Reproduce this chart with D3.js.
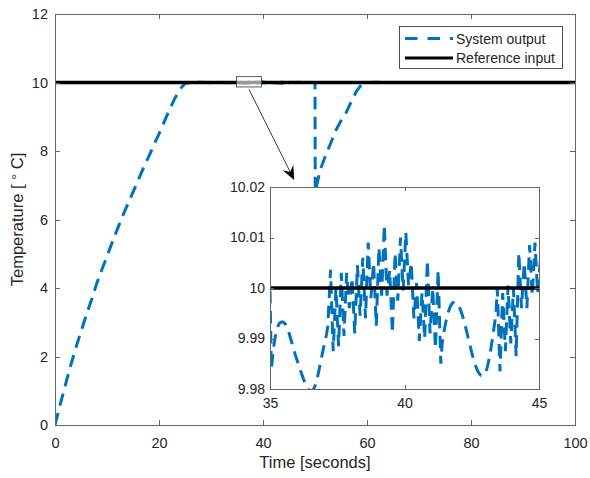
<!DOCTYPE html>
<html>
<head>
<meta charset="utf-8">
<script src="https://cdn.jsdelivr.net/npm/d3@7"></script>
<style>
body { margin: 0; background: #fff; }
text { font-family: "Liberation Sans", Arial, Helvetica, sans-serif; fill: #262626; }
</style>
</head>
<body>
<script>
// reference input (constant set point)
var refTime = [0, 100];
var refTemp = [10, 10];

// system output, coarse samples before the zoomed window
var outTimeA = [0, 1, 2, 3, 4, 5, 6, 7, 8, 9, 10, 11, 12, 13, 14, 15, 16, 17, 18, 19, 20, 21, 22, 23, 24, 25, 26, 27, 28, 30, 32, 34];
var outTempA = [0, 0.6, 1.17, 1.73, 2.25, 2.73, 3.2, 3.65, 4.12, 4.53, 4.93, 5.33, 5.72, 6.1, 6.45, 6.8, 7.15, 7.5, 7.83, 8.17,
                8.5, 8.85, 9.2, 9.52, 9.8, 9.97, 10.0, 10.008, 10.004, 9.996, 10.003, 9.995];

// zoomed window 35-45 s
// 35.00 - 37.10, every 0.05 s
var segATemp = [10.000, 9.984, 9.9865, 9.9888, 9.9905, 9.9917, 9.9925, 9.9930, 9.9932, 9.9933, 9.9932,
                9.9930, 9.9926, 9.9920, 9.9912, 9.9903, 9.9894, 9.9884, 9.9875, 9.9866, 9.9858,
                9.9850, 9.9842, 9.9834, 9.9826, 9.9819, 9.9812, 9.9806, 9.9801, 9.9798, 9.9796,
                9.9796, 9.9798, 9.9803, 9.9810, 9.9820, 9.9832, 9.9845, 9.9858, 9.9871, 9.9884,
                9.9896, 9.9908];
// 37.15 - 41.35, every 0.1 s
var segBTemp = [9.9925, 10.0036, 9.9875, 10.0000, 9.9885, 10.0030, 9.9905, 10.0030, 9.9960, 10.0020,
                9.9910, 10.0045, 9.9945, 10.0060, 9.9940, 10.0090, 9.9980, 10.0050, 9.9925, 10.0080,
                9.9985, 10.0125, 9.9985, 10.0035, 9.9910, 10.0070, 9.9975, 10.0100, 9.9995, 10.0110,
                10.0005, 10.0050, 9.9940, 10.0010, 9.9895, 9.9990, 9.9900, 10.0055, 9.9910, 10.0000,
                9.9880, 10.0035, 9.9850];
// 41.40 - 43.40, every 0.05 s
var segCTemp = [9.9890, 9.9908, 9.9923, 9.9936, 9.9947, 9.9956, 9.9963, 9.9968, 9.9971,
                9.9972, 9.9972, 9.9970, 9.9966, 9.9961, 9.9954, 9.9946, 9.9937, 9.9927, 9.9916,
                9.9905, 9.9894, 9.9883, 9.9872, 9.9862, 9.9853, 9.9845, 9.9838, 9.9833, 9.9829,
                9.9827, 9.9826, 9.9827, 9.9831, 9.9838, 9.9848, 9.9861, 9.9876, 9.9893, 9.9911,
                9.9930, 9.9950];
// 43.45 - 45.05, every 0.1 s
var segDTemp = [10.0000, 9.9835, 9.9990, 9.9875, 10.0005, 9.9890, 10.0000, 9.9865, 10.0070, 9.9960,
                10.0050, 9.9960, 10.0085, 9.9985, 10.0090, 9.9990, 10.0055];

// system output after the zoomed window (disturbance at 50 s)
var outTimeB = [46, 47, 48, 49, 50, 50.05, 51, 52, 53, 54, 55, 56, 57, 58, 59, 60, 62, 65, 70, 75, 80, 85, 90, 95, 100];
var outTempB = [9.998, 10.004, 9.997, 10.002, 10.0, 6.8, 7.45, 7.85, 8.22, 8.6, 8.88, 9.12, 9.45, 9.75, 9.95,
                10.0, 10.004, 9.997, 10.003, 9.996, 10.002, 9.998, 10.003, 9.997, 10.0];

var xTicks = [0, 20, 40, 60, 80, 100];
var yTicks = [0, 2, 4, 6, 8, 10, 12];
var insetXTicks = [35, 40, 45];
var insetYTicks = [9.98, 9.99, 10, 10.01, 10.02];
var legendLabels = ["System output", "Reference input"];

// zoom marker and arrow, in data units of the main axes
var markTime = [34.9, 39.7], markTemp = [9.87, 10.17];
var arrowFrom = [37.3, 9.8], arrowTo = [46.0, 7.15];

var blue = "#0072BD", axisGrey = "#666";

function pairs(ts, vs){ return ts.map(function(t, i){ return {t: t, v: vs[i]}; }); }
function grid(start, step, vs){ return vs.map(function(v, i){ return {t: start + i * step, v: v}; }); }

var output = pairs(outTimeA, outTempA)
    .concat(grid(35, 0.05, segATemp), grid(37.15, 0.1, segBTemp),
            grid(41.4, 0.05, segCTemp), grid(43.45, 0.1, segDTemp),
            pairs(outTimeB, outTempB));
var reference = pairs(refTime, refTemp);

var width = 590, height = 478;
var svg = d3.select("body").append("svg")
    .attr("width", width)
    .attr("height", height);
svg.append("rect").attr("width", width).attr("height", height).attr("fill", "#fff");

var defs = svg.append("defs");

//---------------- main axes
var x = d3.scaleLinear().domain([0, 100]).range([55, 575]);
var y = d3.scaleLinear().domain([0, 12]).range([425, 14]);

defs.append("clipPath").attr("id", "clipMain").append("rect")
    .attr("x", 55).attr("y", 14).attr("width", 520).attr("height", 411);

var line = d3.line().x(function(d){ return x(d.t); }).y(function(d){ return y(d.v); });

var plot = svg.append("g").attr("clip-path", "url(#clipMain)");
plot.append("path").datum(output).attr("d", line)
    .attr("fill", "none").attr("stroke", blue).attr("stroke-width", 3)
    .attr("stroke-dasharray", "12.5,7.5");
plot.append("path").datum(reference).attr("d", line)
    .attr("fill", "none").attr("stroke", "#000").attr("stroke-width", 3.3);

function styleAxis(g, size){
    g.selectAll("path, line").attr("stroke", axisGrey).attr("stroke-width", 1).attr("shape-rendering", "crispEdges");
    g.selectAll("text").attr("fill", "#262626").style("font-size", size + "px")
        .attr("font-family", "'Liberation Sans', Arial, sans-serif");
}

svg.append("g").attr("transform", "translate(0,425)")
    .call(d3.axisBottom(x).tickValues(xTicks).tickSizeInner(-5).tickSizeOuter(0).tickPadding(13))
    .call(styleAxis, 14.5);
svg.append("g").attr("transform", "translate(0,14)")
    .call(d3.axisTop(x).tickValues(xTicks).tickSizeInner(-5).tickSizeOuter(0).tickFormat(""))
    .call(styleAxis, 14.5);
svg.append("g").attr("transform", "translate(55,0)")
    .call(d3.axisLeft(y).tickValues(yTicks).tickSizeInner(-5).tickSizeOuter(0).tickPadding(7))
    .call(styleAxis, 14.5);
svg.append("g").attr("transform", "translate(575,0)")
    .call(d3.axisRight(y).tickValues(yTicks).tickSizeInner(-5).tickSizeOuter(0).tickFormat(""))
    .call(styleAxis, 14.5);

svg.append("text").attr("x", 315).attr("y", 468).attr("text-anchor", "middle")
    .style("font-size", "16.5px").text("Time [seconds]");
var yl = svg.append("text").attr("transform", "translate(23,219.5) rotate(-90)")
    .attr("text-anchor", "middle").style("font-size", "16.5px");
yl.append("tspan").text("Temperature [ ");
yl.append("tspan").attr("dy", -1).style("font-size", "15px").text("°");
yl.append("tspan").attr("dy", 1).text(" C]");

//---------------- legend
var lg = svg.append("g");
lg.append("rect").attr("x", 399.5).attr("y", 26.5).attr("width", 163).attr("height", 42)
    .attr("fill", "#fff").attr("stroke", "#262626").attr("stroke-width", 0.8);
legendLabels.forEach(function(lab, i){
    var cy = 38.5 + i * 19.5;
    lg.append("line").attr("x1", 405).attr("x2", 453).attr("y1", cy).attr("y2", cy)
        .attr("stroke", i === 0 ? blue : "#000").attr("stroke-width", 3)
        .attr("stroke-dasharray", i === 0 ? "12.5,10" : null);
    lg.append("text").attr("x", 456).attr("y", cy).attr("dy", "0.36em")
        .style("font-size", "14px").text(lab);
});

//---------------- zoom marker + arrow
svg.append("rect")
    .attr("x", x(markTime[0])).attr("y", y(markTemp[1]))
    .attr("width", x(markTime[1]) - x(markTime[0])).attr("height", y(markTemp[0]) - y(markTemp[1]))
    .attr("fill", "#fff").attr("fill-opacity", 0.6).attr("stroke", "#333").attr("stroke-width", 0.8);

var ax0 = x(arrowFrom[0]), ay0 = y(arrowFrom[1]), ax1 = x(arrowTo[0]), ay1 = y(arrowTo[1]);
var ang = Math.atan2(ay1 - ay0, ax1 - ax0), hl = 14, hw = 6, notch = 5;
var ux = Math.cos(ang), uy = Math.sin(ang), px = -uy, py = ux;
svg.append("line").attr("x1", ax0).attr("y1", ay0)
    .attr("x2", ax1 - ux * notch).attr("y2", ay1 - uy * notch)
    .attr("stroke", "#262626").attr("stroke-width", 0.9);
svg.append("path")
    .attr("d", "M" + ax1 + "," + ay1 +
        "L" + (ax1 - ux * hl + px * hw) + "," + (ay1 - uy * hl + py * hw) +
        "L" + (ax1 - ux * (hl - notch)) + "," + (ay1 - uy * (hl - notch)) +
        "L" + (ax1 - ux * hl - px * hw) + "," + (ay1 - uy * hl - py * hw) + "Z")
    .attr("fill", "#000");

//---------------- inset axes
var xi = d3.scaleLinear().domain([35, 45]).range([270, 539]);
var yi = d3.scaleLinear().domain([9.98, 10.02]).range([389, 187]);

var inset = svg.append("g");
inset.append("rect").attr("x", 270).attr("y", 187).attr("width", 269).attr("height", 202).attr("fill", "#fff");
defs.append("clipPath").attr("id", "clipInset").append("rect")
    .attr("x", 270).attr("y", 187).attr("width", 269).attr("height", 202);

var lineI = d3.line().x(function(d){ return xi(d.t); }).y(function(d){ return yi(d.v); });
var ip = inset.append("g").attr("clip-path", "url(#clipInset)");
ip.append("path").datum(output.filter(function(d){ return d.t >= 34 && d.t <= 46; })).attr("d", lineI)
    .attr("fill", "none").attr("stroke", blue).attr("stroke-width", 3)
    .attr("stroke-dasharray", "12.5,7.5");
ip.append("path").datum(reference).attr("d", lineI)
    .attr("fill", "none").attr("stroke", "#000").attr("stroke-width", 3.3);

var fmt = function(d){ return String(+d.toFixed(2)); };
inset.append("g").attr("transform", "translate(0,389)")
    .call(d3.axisBottom(xi).tickValues(insetXTicks).tickSizeInner(-4).tickSizeOuter(0).tickPadding(9))
    .call(styleAxis, 14);
inset.append("g").attr("transform", "translate(0,187)")
    .call(d3.axisTop(xi).tickValues(insetXTicks).tickSizeInner(-4).tickSizeOuter(0).tickFormat(""))
    .call(styleAxis, 14);
inset.append("g").attr("transform", "translate(270,0)")
    .call(d3.axisLeft(yi).tickValues(insetYTicks).tickSizeInner(-4).tickSizeOuter(0).tickPadding(5).tickFormat(fmt))
    .call(styleAxis, 14);
inset.append("g").attr("transform", "translate(539,0)")
    .call(d3.axisRight(yi).tickValues(insetYTicks).tickSizeInner(-4).tickSizeOuter(0).tickFormat(""))
    .call(styleAxis, 14);
</script>
</body>
</html>
